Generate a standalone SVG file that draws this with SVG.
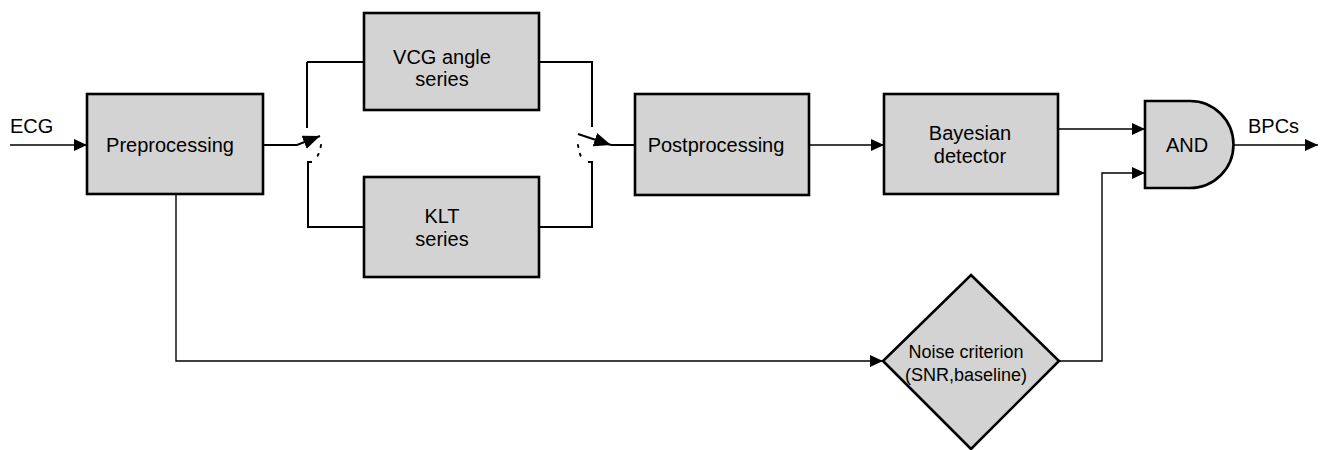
<svg xmlns="http://www.w3.org/2000/svg" width="1320" height="450" viewBox="0 0 1320 450">
  <style>
    .blk { fill: #d3d3d3; stroke: #000; stroke-width: 2.6; }
    .lbl { font-family: "Liberation Sans", Arial, sans-serif; font-size: 20px; fill: #000; text-anchor: middle; }
    .lbl-s { font-family: "Liberation Sans", Arial, sans-serif; font-size: 18px; fill: #000; text-anchor: middle; }
    .free { font-family: "Liberation Sans", Arial, sans-serif; font-size: 20px; fill: #000; }
    .wire { fill: none; stroke: #000; stroke-width: 1.4; }
    .bus { fill: none; stroke: #000; stroke-width: 2; }
    .dots { fill: none; stroke: #000; stroke-width: 2; stroke-dasharray: 2 7; stroke-linecap: round; }
  </style>
  <defs>
    <marker id="arr" markerUnits="userSpaceOnUse" markerWidth="14" markerHeight="13" refX="13" refY="6" orient="auto">
      <path d="M0,0 L13,6 L0,12 Z" fill="#000"/>
    </marker>
    <marker id="arr-sw" markerUnits="userSpaceOnUse" markerWidth="18" markerHeight="15" refX="17" refY="7" orient="auto">
      <path d="M0,0 L17,7 L0,14 Z" fill="#000"/>
    </marker>
  </defs>

  <rect width="1320" height="450" fill="#fff"/>

  <!-- connectors -->
  <g id="connectors">
    <!-- ECG input -->
    <line class="wire" x1="10" y1="145" x2="87" y2="145" marker-end="url(#arr)"/>
    <!-- input selector switch -->
    <path class="bus" d="M263,145 H297 L320,136" marker-end="url(#arr-sw)"/>
    <path class="dots" d="M321,145 Q320,152 317,157"/>
    <path class="bus" d="M307,62 H364"/>
    <path class="bus" d="M307,62 V128"/>
    <path class="bus" d="M312,162 H308 V227 H364"/>
    <!-- output selector switch -->
    <path class="bus" d="M539,62 H592 V127"/>
    <path class="bus" d="M539,227 H592 V162 H588"/>
    <path class="dots" d="M578,145 Q579,151 581,157"/>
    <path class="bus" d="M578,134 L611,145" marker-end="url(#arr-sw)"/>
    <path class="bus" d="M611,145 H635"/>
    <!-- main chain -->
    <line class="wire" x1="809" y1="145" x2="884" y2="145" marker-end="url(#arr)"/>
    <line class="wire" x1="1058" y1="129" x2="1145" y2="129" marker-end="url(#arr)"/>
    <!-- noise branch -->
    <path class="wire" d="M176,193 V361 H883" marker-end="url(#arr)"/>
    <path class="wire" d="M1059,361 H1102 V173 H1145" marker-end="url(#arr)"/>
    <!-- BPC output -->
    <line class="wire" x1="1233" y1="145" x2="1318" y2="145" marker-end="url(#arr)"/>
  </g>

  <text class="free" x="10" y="133">ECG</text>
  <text class="free" x="1248" y="133">BPCs</text>

  <g id="preprocessing">
    <rect class="blk" x="87" y="94" width="176" height="100"/>
    <text class="lbl" x="170" y="152">Preprocessing</text>
  </g>

  <g id="vcg-angle-series">
    <rect class="blk" x="364" y="13" width="175" height="97"/>
    <text class="lbl" x="442" y="64">VCG angle</text>
    <text class="lbl" x="442" y="86">series</text>
  </g>

  <g id="klt-series">
    <rect class="blk" x="364" y="177" width="175" height="100"/>
    <text class="lbl" x="442" y="223">KLT</text>
    <text class="lbl" x="442" y="246">series</text>
  </g>

  <g id="postprocessing">
    <rect class="blk" x="635" y="94" width="174" height="101"/>
    <text class="lbl" x="716" y="152">Postprocessing</text>
  </g>

  <g id="bayesian-detector">
    <rect class="blk" x="884" y="94" width="174" height="100"/>
    <text class="lbl" x="970" y="140">Bayesian</text>
    <text class="lbl" x="970" y="163">detector</text>
  </g>

  <g id="and-gate">
    <path class="blk" d="M1145,101 H1190 A43.5,43.5 0 0 1 1190,188 H1145 Z"/>
    <text class="lbl" x="1187" y="152">AND</text>
  </g>

  <g id="noise-criterion">
    <polygon class="blk" points="971,275 1059,361 971,449 883,361"/>
    <text class="lbl-s" x="966" y="358">Noise criterion</text>
    <text class="lbl-s" x="966" y="381">(SNR,baseline)</text>
  </g>
</svg>
